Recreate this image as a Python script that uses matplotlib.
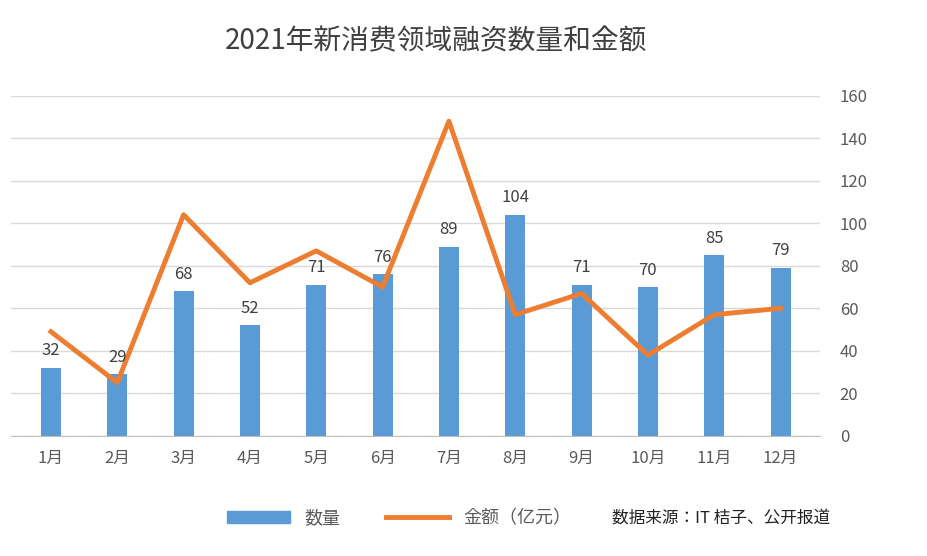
import matplotlib
matplotlib.use("Agg")
import matplotlib.pyplot as plt
from matplotlib import font_manager
from matplotlib.patches import Patch
from matplotlib.lines import Line2D

names = {f.name for f in font_manager.fontManager.ttflist}
cands = ["Noto Sans CJK SC", "Noto Sans CJK JP", "Noto Sans CJK TC", "Noto Sans CJK KR"]
fams = [c for c in cands if c in names]
if not fams:
    for f in font_manager.fontManager.ttflist:
        if "CJK" in f.name or "CJK" in f.fname:
            fams = [f.name]
            break
plt.rcParams["font.family"] = "sans-serif"
plt.rcParams["font.sans-serif"] = fams + ["DejaVu Sans"]

months = ["1月","2月","3月","4月","5月","6月","7月","8月","9月","10月","11月","12月"]
counts = [32, 29, 68, 52, 71, 76, 89, 104, 71, 70, 85, 79]
amounts = [49, 25, 104, 72, 87, 70, 148, 57, 67, 38, 57, 60]
yticks = [0, 20, 40, 60, 80, 100, 120, 140, 160]

fig = plt.figure(figsize=(9.28, 5.56), dpi=100)
ax = fig.add_axes([0.012, 0.216, 0.872, 0.612])
x = range(len(months))
blue = "#5B9BD5"
orange = "#ED7D31"
ax.bar(x, counts, width=0.3, color=blue, zorder=2)
ax.plot(x, amounts, color=orange, lw=3.5, zorder=3)
for i, v in enumerate(counts):
    ax.text(i, v + 4, str(v), ha="center", va="bottom", fontsize=12, color="#404040", zorder=4)
ax.set_ylim(0, 160)
ax.set_xlim(-0.6, 11.6)
ax.set_yticks(yticks)
ax.yaxis.tick_right()
ax.tick_params(axis="y", length=0, labelsize=12, labelcolor="#595959", pad=14)
ax.set_xticks(list(x))
ax.set_xticklabels(months, fontsize=12, color="#595959")
ax.tick_params(axis="x", length=0, pad=10)
ax.grid(axis="y", color="#D9D9D9", lw=1, zorder=0)
for s in ["top", "left", "right"]:
    ax.spines[s].set_visible(False)
ax.spines["bottom"].set_color("#BFBFBF")

fig.text(0.47, 0.925, "2021年新消费领域融资数量和金额", ha="center", va="center", fontsize=20, color="#404040")
handles = [Patch(color=blue), Line2D([], [], color=orange, lw=3.5)]
fig.legend(handles, ["数量", "金额（亿元）"], loc="center", bbox_to_anchor=(0.43, 0.068),
           ncol=2, frameon=False, fontsize=13, handlelength=3.5, columnspacing=2.5,
           labelcolor="#595959")
fig.text(0.66, 0.068, "数据来源：IT 桔子、公开报道", ha="left", va="center", fontsize=12, color="#222222")
fig.savefig("out.png", dpi=100)
